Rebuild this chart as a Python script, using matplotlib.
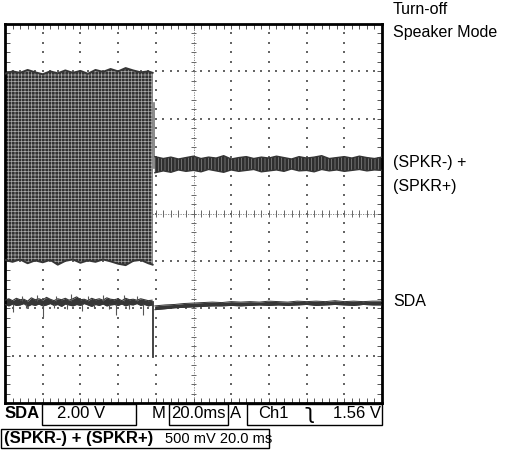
import numpy as np
import matplotlib
matplotlib.use("Agg")
import matplotlib.pyplot as plt

plt.rcParams['font.family'] = ['Liberation Sans', 'DejaVu Sans']
plt.rcParams['hatch.linewidth'] = 0.5

# ---------------- data (time in ms, amplitude in divisions) ----------------
burst_t = [0, 4, 8, 12, 16, 20, 24, 28, 32, 36, 40, 44, 48, 52, 56, 60, 64, 68, 72, 76, 78.3]
burst_top = [2.95, 3.00, 2.97, 3.03, 2.98, 2.94, 3.00, 2.96, 3.02, 2.97, 3.01,
             2.95, 3.03, 2.99, 3.05, 3.00, 3.07, 3.02, 2.98, 3.00, 2.97]
burst_bot = [-0.98, -1.02, -0.97, -1.05, -0.99, -1.03, -0.98, -1.08, -1.00, -0.97, -1.04,
             -0.99, -1.02, -0.97, -1.01, -1.06, -1.09, -1.00, -0.98, -1.05, -1.08]

spk_step_t = 78.9
spk_step_v = [2.33, 0.95]

spk_t = [79.5, 84, 88, 92, 96, 100, 104, 108, 112, 116, 120, 124, 128, 132, 136, 140,
         144, 148, 152, 156, 160, 164, 168, 172, 176, 180, 184, 188, 192, 196, 200]
spk_top = [1.20, 1.16, 1.19, 1.15, 1.18, 1.21, 1.16, 1.19, 1.17, 1.22, 1.15, 1.18, 1.20, 1.16,
           1.19, 1.17, 1.21, 1.18, 1.15, 1.20, 1.17, 1.19, 1.22, 1.16, 1.18, 1.20, 1.17, 1.21,
           1.18, 1.16, 1.19]
spk_bot = [0.86, 0.90, 0.87, 0.92, 0.89, 0.91, 0.88, 0.93, 0.90, 0.87, 0.92, 0.89, 0.91, 0.93,
           0.88, 0.90, 0.92, 0.89, 0.94, 0.90, 0.91, 0.88, 0.93, 0.90, 0.92, 0.89, 0.91, 0.93,
           0.90, 0.92, 0.91]

sda_pre_t = [0, 2, 4, 6, 8, 10, 12, 14, 16, 18, 20, 22, 24, 26, 28, 30, 32, 34, 36, 38,
             40, 42, 44, 46, 48, 50, 52, 54, 56, 58, 60, 62, 64, 66, 68, 70, 72, 74, 76, 78]
sda_pre_top = [-1.83, -1.80, -1.84, -1.79, -1.82, -1.81, -1.85, -1.78, -1.82, -1.80,
               -1.83, -1.77, -1.81, -1.84, -1.80, -1.82, -1.79, -1.83, -1.80, -1.76,
               -1.82, -1.81, -1.84, -1.79, -1.82, -1.80, -1.83, -1.78, -1.81, -1.82,
               -1.80, -1.84, -1.79, -1.82, -1.81, -1.83, -1.80, -1.82, -1.84, -1.83]
sda_pre_bot = [-1.92, -1.95, -1.91, -1.94, -1.93, -1.90, -1.96, -1.92, -1.94, -1.91,
               -1.95, -1.93, -1.90, -1.94, -1.92, -1.96, -1.91, -1.93, -1.95, -1.92,
               -1.94, -1.90, -1.93, -1.96, -1.92, -1.94, -1.91, -1.95, -1.93, -1.92,
               -1.94, -1.91, -1.95, -1.92, -1.93, -1.90, -1.94, -1.92, -1.95, -1.93]
sda_dn_t = [4, 11, 20, 26, 33, 41, 47, 55, 59, 66, 73]
sda_dn_v = [-2.08, -1.99, -2.18, -2.00, -2.02, -2.06, -1.99, -2.01, -2.14, -2.02, -2.14]
sda_up_t = [9, 17, 27, 35, 44, 52, 63, 70]
sda_up_v = [-1.74, -1.72, -1.75, -1.70, -1.74, -1.72, -1.73, -1.75]
sda_drop_t = 78.5
sda_drop_v = [-1.87, -3.02]

sda_post_t = [79.5, 85, 90, 95, 100, 105, 110, 115, 120, 125, 130, 135, 140, 145, 150,
              155, 160, 165, 170, 175, 180, 185, 190, 195, 200]
sda_post_top = [-1.95, -1.93, -1.92, -1.90, -1.89, -1.88, -1.87, -1.88, -1.86, -1.87,
                -1.86, -1.87, -1.85, -1.86, -1.87, -1.85, -1.86, -1.85, -1.86, -1.84,
                -1.86, -1.85, -1.86, -1.85, -1.85]
sda_post_bot = [-2.03, -2.01, -1.99, -1.98, -1.97, -1.96, -1.95, -1.95, -1.94, -1.95,
                -1.94, -1.93, -1.94, -1.93, -1.94, -1.93, -1.92, -1.94, -1.93, -1.92,
                -1.93, -1.94, -1.92, -1.93, -1.93]

# ---------------- figure ----------------
W, H = 508, 459
fig = plt.figure(figsize=(W / 100, H / 100), dpi=100)
ax = fig.add_axes([5 / W, 56 / H, 377 / W, 379 / H])
ax.set_xlim(0, 200)
ax.set_ylim(-4, 4)

trace = '#363636'

# graticule dots
minor_x = np.arange(0, 200.01, 4)
minor_y = np.arange(-4, 4.01, 0.2)
for gx in range(20, 200, 20):
    if gx == 100:
        continue
    ax.scatter(np.full(len(minor_y), gx), minor_y, s=1.2, marker='s', color='#666666',
               linewidths=0, zorder=1)
for gy in range(-3, 4):
    if gy == 0:
        continue
    ax.scatter(minor_x, np.full(len(minor_x), gy), s=1.2, marker='s', color='#666666',
               linewidths=0, zorder=1)
# center cross with ticks
ax.plot([100, 100], [-4, 4], color='#777777', lw=0.6, ls=(0, (1.5, 1.5)), zorder=1)
ax.plot([0, 200], [0, 0], color='#777777', lw=0.6, ls=(0, (1.5, 1.5)), zorder=1)
ax.hlines(minor_y, 100 - 1.3, 100 + 1.3, color='#666666', lw=0.7, zorder=1)
ax.vlines(minor_x, -0.07, 0.07, color='#666666', lw=0.7, zorder=1)

# SPKR burst
ax.fill_between(burst_t, burst_bot, burst_top, facecolor='#303030', edgecolor='#a8a8a8',
                hatch='+++++', linewidth=0, zorder=2)
ax.plot(burst_t, burst_top, color=trace, lw=1.4, zorder=3)
ax.plot(burst_t, burst_bot, color=trace, lw=1.4, zorder=3)
ax.plot([spk_step_t, spk_step_t], spk_step_v, color='#777777', lw=1.2, zorder=3)

# SPKR after turn-off
ax.fill_between(spk_t, spk_bot, spk_top, facecolor='#2e2e2e', edgecolor='#8a8a8a',
                hatch='|||||', linewidth=0, zorder=2)
ax.plot(spk_t, spk_top, color=trace, lw=1.0, zorder=3)
ax.plot(spk_t, spk_bot, color=trace, lw=1.0, zorder=3)

# SDA
ax.fill_between(sda_pre_t, sda_pre_bot, sda_pre_top, color=trace, linewidth=0, zorder=2)
ax.plot(sda_pre_t, sda_pre_top, color=trace, lw=0.8, zorder=3)
ax.plot(sda_pre_t, sda_pre_bot, color=trace, lw=0.8, zorder=3)
ax.vlines(sda_dn_t, -1.9, sda_dn_v, color='#555555', lw=0.8, zorder=3)
ax.vlines(sda_up_t, -1.85, sda_up_v, color='#555555', lw=0.8, zorder=3)
ax.plot([sda_drop_t, sda_drop_t], sda_drop_v, color=trace, lw=1.3, zorder=3)
ax.fill_between(sda_post_t, sda_post_bot, sda_post_top, color=trace, linewidth=0, zorder=2)
ax.plot(sda_post_t, sda_post_top, color=trace, lw=0.7, zorder=3)
ax.plot(sda_post_t, sda_post_bot, color=trace, lw=0.7, zorder=3)

# frame & edge ticks
for s in ax.spines.values():
    s.set_linewidth(2.0)
    s.set_color('black')
ax.set_xticks(minor_x)
ax.set_yticks(minor_y)
ax.tick_params(direction='in', length=3.5, width=0.7, color='#555555',
               top=True, right=True, labelbottom=False, labelleft=False)

# right-hand labels
def ftxt(x, y, s, **kw):
    fig.text(x / W, 1 - y / H, s, va='center', ha='left', **kw)

ftxt(393, 10, 'Turn-off', fontsize=11.5)
ftxt(393, 33, 'Speaker Mode', fontsize=11.5)
ftxt(393, 163, '(SPKR-) +', fontsize=11.5)
ftxt(393, 187, '(SPKR+)', fontsize=11.5)
ftxt(393, 301, 'SDA', fontsize=11.5)

# bottom readout
def box(x0, y0, x1, y1):
    r = plt.Rectangle((x0 / W, 1 - y1 / H), (x1 - x0) / W, (y1 - y0) / H,
                      transform=fig.transFigure, fill=False, edgecolor='black', lw=1.0)
    fig.add_artist(r)

box(42, 404, 136, 425)
box(169, 404, 228, 425)
box(247, 404, 382, 425)
box(1, 429, 269, 448)
ftxt(5, 414, 'SDA', fontsize=12, fontweight='bold')
ftxt(57, 414, '2.00 V', fontsize=12)
ftxt(152, 414, 'M', fontsize=12)
ftxt(171, 414, '20.0ms', fontsize=12)
ftxt(230, 414, 'A', fontsize=12)
ftxt(258, 414, 'Ch1', fontsize=12)
ftxt(304, 413, 'ʅ', fontsize=16, family=['DejaVu Sans'])
ftxt(333, 414, '1.56 V', fontsize=12)
ftxt(4, 439, '(SPKR-) + (SPKR+)', fontsize=12, fontweight='bold')
ftxt(165, 439, '500 mV 20.0 ms', fontsize=10.5)

fig.savefig('out.png', dpi=100)
